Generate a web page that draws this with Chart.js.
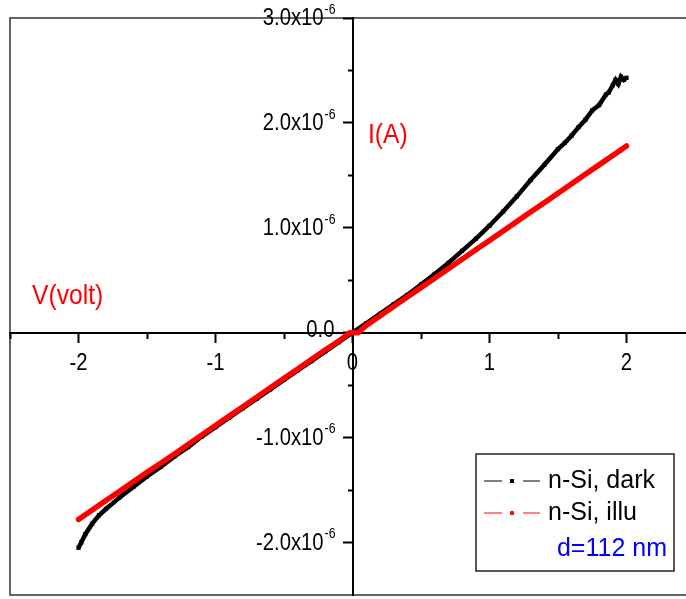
<!DOCTYPE html>
<html>
<head>
<meta charset="utf-8">
<script src="https://cdn.jsdelivr.net/npm/chart.js@4.4.1/dist/chart.umd.min.js"></script>
<style>
  html, body { margin: 0; padding: 0; background: #fff; overflow: hidden; }
  canvas { display: block; }
</style>
</head>
<body>
<canvas id="chart-iv" width="700" height="599"></canvas>
<script>
// I-V sweep of the n-Si film, current in micro-amps
const darkVoltage = [-2.00, -1.98, -1.95, -1.90, -1.85, -1.80, -1.70, -1.60, -1.50, -1.40, -1.30, -1.20, -1.10, -1.00,
  -0.90, -0.80, -0.70, -0.60, -0.50, -0.40, -0.30, -0.20, -0.10, 0.00, 0.10, 0.20, 0.30, 0.40, 0.50, 0.60, 0.70,
  0.80, 0.90, 1.00, 1.10, 1.20, 1.30, 1.40, 1.50, 1.55, 1.60, 1.65, 1.70, 1.75, 1.80, 1.85, 1.87, 1.90, 1.92,
  1.94, 1.96, 1.98, 2.00];
const darkCurrent = [-2.05, -2.00, -1.92, -1.82, -1.74, -1.68, -1.57, -1.47, -1.37, -1.28, -1.18, -1.09, -0.99, -0.90,
  -0.81, -0.72, -0.63, -0.54, -0.45, -0.36, -0.27, -0.18, -0.09, 0.00, 0.09, 0.18, 0.27, 0.36, 0.46, 0.56, 0.665,
  0.78, 0.895, 1.02, 1.155, 1.30, 1.455, 1.60, 1.75, 1.81, 1.88, 1.96, 2.03, 2.12, 2.17, 2.27, 2.29, 2.36, 2.41,
  2.37, 2.44, 2.41, 2.43];

const illuVoltage = [-2.0, -1.9, -1.8, -1.7, -1.6, -1.5, -1.4, -1.3, -1.2, -1.1, -1.0, -0.9, -0.8, -0.7, -0.6, -0.5,
  -0.4, -0.3, -0.2, -0.1, -0.02, 0.04, 0.1, 0.2, 0.3, 0.4, 0.5, 0.6, 0.7, 0.8, 0.9, 1.0, 1.1, 1.2, 1.3, 1.4, 1.5,
  1.6, 1.7, 1.8, 1.9, 2.0];
const illuCurrent = [-1.78, -1.69, -1.60, -1.51, -1.42, -1.33, -1.245, -1.155, -1.065, -0.975, -0.885, -0.795, -0.705,
  -0.615, -0.525, -0.435, -0.345, -0.255, -0.165, -0.08, 0.00, 0.00, 0.07, 0.16, 0.25, 0.34, 0.43, 0.52, 0.61, 0.70,
  0.79, 0.88, 0.97, 1.06, 1.15, 1.24, 1.33, 1.42, 1.51, 1.60, 1.69, 1.78];

// labelled (major) and short (minor) tick positions
const voltTicks = [-2, -1, 0, 1, 2];
const voltMinorTicks = [-2.5, -1.5, -0.5, 0.5, 1.5, 2.5];
const currentTicks = [-2, -1, 0, 1, 2, 3];
const currentMinorTicks = [-1.5, -0.5, 0.5, 1.5, 2.5];

const seriesLabels = ['n-Si, dark', 'n-Si, illu'];
const thicknessNote = 'd=112 nm';

const FONT = 'Arial, "Liberation Sans", sans-serif';

function drawText(ctx, str, x, y, align, size, color, sx = 0.88) {
  ctx.save();
  ctx.translate(x, y);
  ctx.scale(sx, 1);
  ctx.font = size + 'px ' + FONT;
  ctx.fillStyle = color;
  ctx.textAlign = align;
  ctx.textBaseline = 'middle';
  ctx.fillText(str, 0, 0);
  ctx.restore();
}

function textWidth(ctx, str, size, sx = 0.88) {
  ctx.save();
  ctx.font = size + 'px ' + FONT;
  const w = ctx.measureText(str).width * sx;
  ctx.restore();
  return w;
}

const setTicks = values => scale => { scale.ticks = values.map(value => ({ value })); };

// frame, tick labels with exponents, axis names and the boxed legend
const ivDecor = {
  id: 'ivDecor',
  beforeDraw(chart) {
    const { ctx, chartArea: a } = chart;
    ctx.save();
    ctx.strokeStyle = '#333';
    ctx.lineWidth = 1.5;
    ctx.strokeRect(a.left, a.top, a.right - a.left, a.bottom - a.top);
    ctx.restore();
  },
  afterDraw(chart) {
    const { ctx } = chart;
    const xs = chart.scales.x, ys = chart.scales.y;
    const x0 = xs.getPixelForValue(0), y0 = ys.getPixelForValue(0);

    xs.ticks.forEach(t => {
      drawText(ctx, String(t.value), xs.getPixelForValue(t.value), y0 + 31, 'center', 23, '#000');
    });

    const right = x0 - 17;
    ys.ticks.forEach(t => {
      const py = ys.getPixelForValue(t.value);
      if (t.value === 0) {
        drawText(ctx, '0.0', right - 1, py - 2, 'right', 23, '#000');
        return;
      }
      const sup = '-6';
      const supW = textWidth(ctx, sup, 14);
      drawText(ctx, sup, right - supW, py - 8, 'left', 14, '#000');
      drawText(ctx, t.value.toFixed(1) + 'x10', right - supW - 1, py + 1, 'right', 23, '#000');
    });

    // axis names
    drawText(ctx, 'V(volt)', 32, 296, 'left', 28, '#ff0000');
    drawText(ctx, 'I(A)', 368, 135, 'left', 28, '#ff0000');

    // legend box
    const bx = 476, by = 454, bw = 198, bh = 117;
    ctx.save();
    ctx.strokeStyle = '#222';
    ctx.lineWidth = 1.5;
    ctx.strokeRect(bx, by, bw, bh);
    chart.data.datasets.forEach((ds, i) => {
      const ry = by + 27 + i * 32;
      ctx.strokeStyle = ds.borderColor;
      ctx.lineWidth = 1;
      ctx.beginPath();
      ctx.moveTo(bx + 8, ry); ctx.lineTo(bx + 26, ry);
      ctx.moveTo(bx + 47, ry); ctx.lineTo(bx + 64, ry);
      ctx.stroke();
      ctx.fillStyle = ds.borderColor;
      if (ds.pointStyle === 'rect') {
        ctx.fillRect(bx + 34, ry - 2, 4, 4);
      } else {
        ctx.beginPath();
        ctx.arc(bx + 36, ry, 2.2, 0, Math.PI * 2);
        ctx.fill();
      }
      drawText(ctx, ds.label, bx + 72, ry, 'left', 25, '#000', 1);
    });
    ctx.restore();
    drawText(ctx, thicknessNote, bx + 191, by + 95, 'right', 25, '#0000ff', 1);
  }
};

const toPoints = (xs, ys) => xs.map((v, i) => ({ x: v, y: ys[i] }));

new Chart(document.getElementById('chart-iv'), {
  type: 'scatter',
  data: {
    datasets: [
      {
        label: seriesLabels[0],
        data: toPoints(darkVoltage, darkCurrent),
        showLine: true,
        borderColor: '#000000',
        backgroundColor: '#000000',
        borderWidth: 4.5,
        pointStyle: 'rect',
        pointRadius: 3,
        pointBorderWidth: 0,
        order: 2
      },
      {
        label: seriesLabels[1],
        data: toPoints(illuVoltage, illuCurrent),
        showLine: true,
        borderColor: '#ff0000',
        backgroundColor: '#ff0000',
        borderWidth: 5.5,
        borderCapStyle: 'round',
        pointStyle: 'circle',
        pointRadius: 0,
        order: 1
      }
    ]
  },
  options: {
    responsive: false,
    animation: false,
    layout: { padding: { left: 10, top: 18, right: 5, bottom: 1 } },
    plugins: { legend: { display: false }, tooltip: { enabled: false } },
    scales: {
      x: {
        type: 'linear', min: -2.5, max: 2.5, position: { y: 0 },
        afterBuildTicks: setTicks(voltTicks),
        grid: { drawOnChartArea: false, tickLength: 9, tickWidth: 2, tickColor: '#000' },
        border: { color: '#000', width: 2 },
        ticks: { display: false }
      },
      xMinor: {
        type: 'linear', axis: 'x', min: -2.5, max: 2.5, position: { y: 0 },
        afterBuildTicks: setTicks(voltMinorTicks),
        grid: { drawOnChartArea: false, tickLength: 6, tickWidth: 2, tickColor: '#000' },
        border: { display: false },
        ticks: { display: false }
      },
      y: {
        type: 'linear', min: -2.5, max: 3, position: { x: 0 },
        afterBuildTicks: setTicks(currentTicks),
        grid: { drawOnChartArea: false, tickLength: 9, tickWidth: 2, tickColor: '#000' },
        border: { color: '#000', width: 2 },
        ticks: { display: false }
      },
      yMinor: {
        type: 'linear', axis: 'y', min: -2.5, max: 3, position: { x: 0 },
        afterBuildTicks: setTicks(currentMinorTicks),
        grid: { drawOnChartArea: false, tickLength: 5, tickWidth: 2, tickColor: '#000' },
        border: { display: false },
        ticks: { display: false }
      }
    }
  },
  plugins: [ivDecor]
});
</script>
</body>
</html>
